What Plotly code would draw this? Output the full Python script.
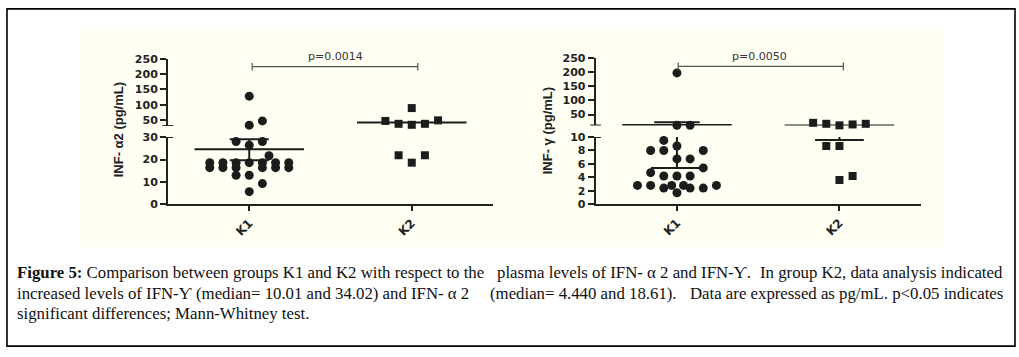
import plotly.graph_objects as go

W, H = 1019, 357

# ---------------- data ----------------
groups = ["K1", "K2"]

alpha_k1 = [128, 47, 33, 28, 28, 26.4, 21.7,
            18.6, 18.6, 18.6, 18.6, 18.6, 18.6, 18.6,
            16.4, 16.4, 16.4, 16.4, 16.4, 16.4,
            13, 13, 9.3, 5.7]
alpha_k2 = [89, 46.8, 37.4, 34.2, 37.4, 48.7, 21.9, 21.9, 18.6]
gamma_k1 = [198, 12, 12, 9.5, 8.67, 8, 8, 8, 6.75, 6.75, 5.4, 4.7,
            4.2, 4.2, 4.2, 2.8, 2.8, 2.4, 2.8, 2.8, 2.4, 2.4, 2.8, 1.7]
gamma_k2 = [20.5, 17, 11.5, 14.7, 17, 8.67, 8.67, 3.6, 4.2]

# column-scatter slot (beeswarm) index of each point
alpha_k1_slot = [0, 1, 0, -1, 1, 0, 1.5, -3, -2, -1, 0, 1, 2, 3,
                 -3, -2, -1, 1, 2, 3, -1, 0, 1, 0]
alpha_k2_slot = [0, -2, -1, 0, 1, 2, -1, 1, 0]
gamma_k1_slot = [0, 0, 1, -1, 0, -2, -1, 2, 0, 1, 2, -2, -1, 0, 1,
                 -3, -2, -1, -0.4, 0.5, 1, 2, 3, 0]
gamma_k2_slot = [-2, -1, 0, 1, 2, -1, 0, 0, 1]

# summary lines (centre, upper bar, lower bar)
alpha_center = [24.6, 41.6]
alpha_upper = [29.0, None]
alpha_lower = [19.7, None]
gamma_center = [12.3, 11.3]
gamma_upper = [22.6, None]
gamma_lower = [5.4, 9.57]

p_texts = ["p=0.0014", "p=0.0050"]
alpha_ticks_low = [0, 10, 20, 30]
alpha_ticks_high = [50, 100, 150, 200, 250]
gamma_ticks_low = [0, 2, 4, 6, 8, 10]
gamma_ticks_high = [50, 100, 150, 200, 250]

caption_line1 = ["<b>Figure 5:</b> Comparison between groups K1 and K2 with respect to the",
                 "plasma levels of IFN- α 2 and IFN-Ƴ.",
                 "In group K2, data analysis indicated"]
caption_line2 = ["increased levels of IFN-Ƴ (median= 10.01 and 34.02) and IFN- α 2",
                 "(median= 4.440 and 18.61).",
                 "Data are expressed as pg/mL. p<0.05 indicates"]
caption_line3 = "significant differences; Mann-Whitney test."

# ---------------- helpers ----------------
def X(px):
    return px / W

def Y(py):
    return 1 - py / H

SLOT = 0.081
INK = "#1c1c1c"
AX = "#222222"

fig = go.Figure()

def add_points(values, slots, gi, xa, ylow, yhigh, split, symbol, size):
    lo_x, lo_y, hi_x, hi_y = [], [], [], []
    for v, s in zip(values, slots):
        xv = gi + 1 + s * SLOT
        if v > split:
            hi_x.append(xv); hi_y.append(v)
        else:
            lo_x.append(xv); lo_y.append(v)
    mk = dict(symbol=symbol, size=size, color=INK, line=dict(width=0))
    fig.add_trace(go.Scatter(x=lo_x, y=lo_y, xaxis=xa, yaxis=ylow, mode="markers",
                             marker=mk, cliponaxis=False, showlegend=False, hoverinfo="skip"))
    fig.add_trace(go.Scatter(x=hi_x, y=hi_y, xaxis=xa, yaxis=yhigh, mode="markers",
                             marker=mk, cliponaxis=False, showlegend=False, hoverinfo="skip"))

add_points(alpha_k1, alpha_k1_slot, 0, "x", "y", "y2", 30, "circle", 9)
add_points(alpha_k2, alpha_k2_slot, 1, "x", "y", "y2", 30, "square", 8)
add_points(gamma_k1, gamma_k1_slot, 0, "x2", "y3", "y4", 10.5, "circle", 9)
add_points(gamma_k2, gamma_k2_slot, 1, "x2", "y3", "y4", 10.5, "square", 8)

shapes = []
# outer frame and panel background
shapes.append(dict(type="rect", xref="paper", yref="paper", x0=X(80), x1=X(943),
                   y0=Y(250), y1=Y(25), fillcolor="#fffff3", line=dict(width=0), layer="below"))
shapes.append(dict(type="rect", xref="paper", yref="paper", x0=X(7), x1=X(1015),
                   y0=Y(353), y1=Y(3), line=dict(color="black", width=1.6)))

def seg(xr, yr, x0, x1, y0, y1, w=2, color=INK):
    shapes.append(dict(type="line", xref=xr, yref=yr, x0=x0, x1=x1, y0=y0, y1=y1,
                       line=dict(color=color, width=w)))

MEAN_HW = 0.337
CAP_HW = 0.12

# alpha plot summary lines
seg("x", "y", 1 - MEAN_HW, 1 + MEAN_HW, alpha_center[0], alpha_center[0])
seg("x", "y", 1, 1, alpha_lower[0], alpha_upper[0])
seg("x", "y", 1 - CAP_HW, 1 + CAP_HW, alpha_upper[0], alpha_upper[0])
seg("x", "y", 1 - CAP_HW, 1 + CAP_HW, alpha_lower[0], alpha_lower[0])
seg("x", "y2", 2 - MEAN_HW, 2 + MEAN_HW, alpha_center[1], alpha_center[1])

# gamma plot summary lines
seg("x2", "y4", 1 - MEAN_HW, 1 + MEAN_HW, gamma_center[0], gamma_center[0])
seg("x2", "y4", 1, 1, gamma_center[0], gamma_upper[0])
seg("x2", "y4", 1 - 0.14, 1 + 0.14, gamma_upper[0], gamma_upper[0])
seg("x2", "y3", 1, 1, gamma_lower[0], 10)
seg("x2", "y3", 1 - 0.16, 1 + 0.16, gamma_lower[0], gamma_lower[0])
seg("x2", "y4", 2 - MEAN_HW, 2 + MEAN_HW, gamma_center[1], gamma_center[1])
seg("x2", "y3", 2, 2, gamma_lower[1], 10)
seg("x2", "y3", 2 - 0.15, 2 + 0.15, gamma_lower[1], gamma_lower[1])

# axis break marks
for xd, yr, yv in [("x domain", "y", 30), ("x domain", "y2", 30),
                   ("x2 domain", "y3", 10), ("x2 domain", "y4", 11)]:
    shapes.append(dict(type="line", xref=xd, yref=yr, x0=-0.017, x1=0.016, y0=yv, y1=yv,
                       line=dict(color=AX, width=2)))

# p-value brackets
BR = "#555555"
seg("x", "y2", 1.018, 2.037, 224.7, 224.7, 1.2, BR)
seg("x", "y2", 1.018, 1.018, 212, 237, 1.2, BR)
seg("x", "y2", 2.037, 2.037, 212, 237, 1.2, BR)
seg("x2", "y4", 1.008, 2.024, 221, 221, 1.2, BR)
seg("x2", "y4", 1.008, 1.008, 207, 235, 1.2, BR)
seg("x2", "y4", 2.024, 2.024, 207, 235, 1.2, BR)

fig.update_layout(shapes=shapes)

tickfont = dict(family="DejaVu Sans", size=11, color=AX, weight="bold")
xfont = dict(family="DejaVu Sans", size=12, color=AX, weight="bold")

def yax(domain, rng, ticks):
    return dict(domain=domain, range=rng, tickvals=ticks, ticktext=[str(t) for t in ticks],
                anchor="x", showline=True, linecolor=AX, linewidth=2, ticks="outside",
                ticklen=6, tickwidth=2, tickcolor=AX, showgrid=False, zeroline=False,
                tickfont=tickfont, fixedrange=True)

def xax(domain, anchor):
    return dict(domain=domain, range=[0.5, 2.5], tickvals=[1, 2], ticktext=groups,
                anchor=anchor, showline=True, linecolor=AX, linewidth=2, ticks="outside",
                ticklen=5, tickwidth=2, tickcolor=AX, showgrid=False, zeroline=False,
                tickangle=-45, tickfont=xfont)

y2 = yax([Y(124.6), Y(55)], [30, 250], alpha_ticks_high)
y4 = yax([Y(124), Y(54.3)], [11, 250], gamma_ticks_high)
y4["anchor"] = "x2"
y3 = yax([Y(205.7), Y(136)], [0, 10], gamma_ticks_low)
y3["anchor"] = "x2"

fig.update_layout(
    width=W, height=H, autosize=False,
    margin=dict(l=0, r=0, t=0, b=0, pad=0),
    paper_bgcolor="white", plot_bgcolor="rgba(0,0,0,0)",
    showlegend=False,
    xaxis=xax([X(168), X(493)], "y"),
    yaxis=yax([Y(206), Y(136)], [0, 30], alpha_ticks_low),
    yaxis2=y2,
    xaxis2=xax([X(595.7), X(920.7)], "y3"),
    yaxis3=y3,
    yaxis4=y4,
)

ann = []
titlefont = dict(family="Liberation Sans", size=13, color=AX, weight="bold")
ann.append(dict(text="INF- α2 (pg/mL)", x=X(118), y=Y(129), xref="paper", yref="paper",
                textangle=-90, showarrow=False, font=titlefont, xanchor="center", yanchor="middle"))
ann.append(dict(text="INF- γ (pg/mL)", x=X(547), y=Y(130), xref="paper", yref="paper",
                textangle=-90, showarrow=False, font=titlefont, xanchor="center", yanchor="middle"))
pfont = dict(family="DejaVu Sans", size=11, color="#333333")
ann.append(dict(text=p_texts[0], x=1.53, y=Y(52), xref="x", yref="paper",
                showarrow=False, font=pfont, xanchor="center", yanchor="middle"))
ann.append(dict(text=p_texts[1], x=1.51, y=Y(52), xref="x2", yref="paper",
                showarrow=False, font=pfont, xanchor="center", yanchor="middle"))

capfont = dict(family="Liberation Serif", size=16.8, color="#111111")
lines_y = [277, 298, 319]

def cap(text, xpx, ypx, anchor):
    ann.append(dict(text=text, x=X(xpx), y=Y(ypx), xref="paper", yref="paper",
                    showarrow=False, font=capfont, xanchor=anchor, yanchor="middle"))

cap(caption_line1[0], 15, lines_y[0], "left")
cap(caption_line1[1], 495, lines_y[0], "left")
cap(caption_line1[2], 1005, lines_y[0], "right")
cap(caption_line2[0], 15, lines_y[1], "left")
cap(caption_line2[1], 488, lines_y[1], "left")
cap(caption_line2[2], 1005, lines_y[1], "right")
cap(caption_line3, 15, lines_y[2], "left")
fig.update_layout(annotations=ann)

fig.write_html("out.html", config={"displayModeBar": False},
               post_script="document.body.style.margin='0px';document.body.style.padding='0px';")
